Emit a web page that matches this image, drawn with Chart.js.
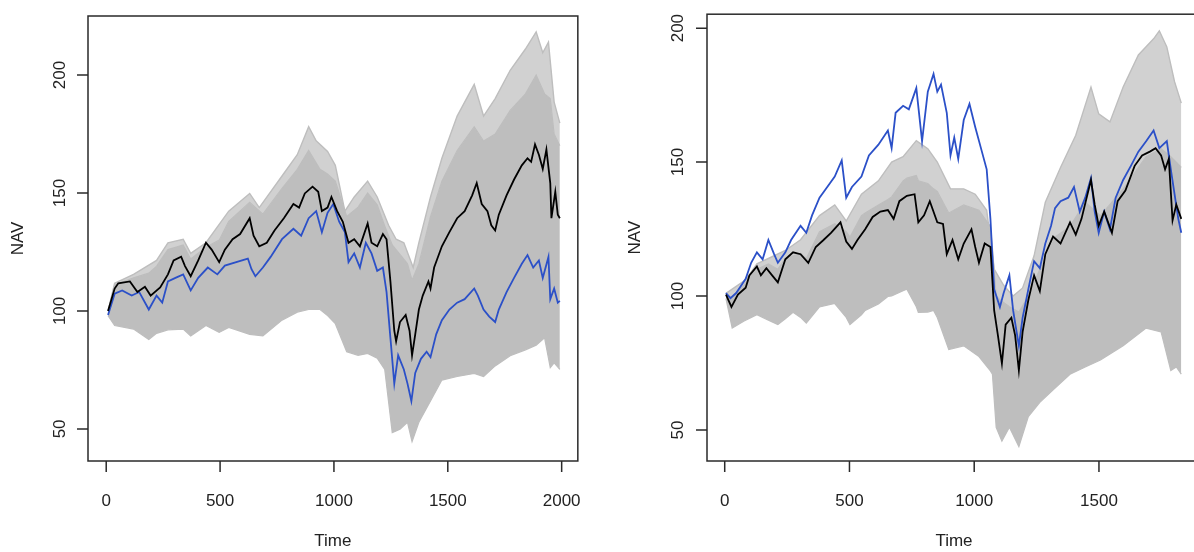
<!DOCTYPE html>
<html>
<head>
<meta charset="utf-8">
<script src="https://cdn.jsdelivr.net/npm/chart.js@4"></script>
<style>
  html, body { margin: 0; padding: 0; background: #fff; overflow: hidden; }
  .wrap { position: relative; width: 1194px; height: 552px; overflow: hidden; }
  canvas { position: absolute; top: 0; }
  #left-chart { left: 0; }
  #right-chart { left: 600px; }
</style>
</head>
<body>
<div class="wrap">
  <canvas id="left-chart" width="600" height="552"></canvas>
  <canvas id="right-chart" width="620" height="552"></canvas>
</div>
<script>
// ---- left panel ----
const leftBlackT = [8,37,53,104,137,170,195,237,271,296,329,346,371,404,438,463,496,521,555,588,630,647,672,705,739,780,822,847,872,906,931,947,972,989,1014,1039,1064,1089,1114,1148,1165,1190,1215,1231,1248,1265,1273,1290,1315,1332,1343,1357,1373,1390,1415,1424,1440,1474,1507,1541,1574,1607,1627,1649,1674,1691,1708,1724,1758,1791,1825,1850,1866,1883,1900,1917,1933,1950,1955,1972,1983,1992];
const leftBlackV = [100,109.5,111.7,112.5,108,110.2,106.5,110,115.5,121.4,123,119,114.7,121.4,128.9,126,120.7,126,130.4,132.6,139.3,131.9,127.4,128.9,134.1,139.3,145.3,143.8,149.8,152.7,150.5,142.3,143.8,148.3,142.3,137.8,128.9,130.4,127.4,137.1,128.9,127.4,132.6,130.4,112.5,91.6,87.1,95.3,98.3,91.6,81.2,90.1,100.6,106.5,112.5,109.5,118.4,127.4,133.4,139.3,142.3,149,154.2,145.3,142.3,136.3,134.1,140.8,149,155.7,161.7,164.7,163.2,170.6,166.2,160.2,168.4,154.2,139.3,150.5,140.8,139.3];

const leftBlueT = [8,37,70,112,145,187,221,246,271,304,338,371,404,446,488,521,571,622,638,655,688,722,772,822,856,889,922,947,972,997,1023,1048,1064,1089,1114,1140,1165,1190,1215,1231,1248,1265,1282,1307,1323,1340,1357,1382,1407,1424,1449,1474,1507,1541,1574,1616,1632,1657,1682,1708,1724,1758,1791,1825,1850,1875,1900,1917,1942,1950,1967,1983,1992];
const leftBlueV = [98.3,107.3,108.7,106.5,108,100.6,106.5,103.5,112.5,114,115.5,108.7,114,118.4,115.5,119.2,120.7,122.2,117.7,114.7,118.4,122.9,130.4,134.8,131.9,139.3,142.3,133.4,141.6,145.3,137.8,133.4,120.7,124.4,118.4,128.9,124.4,117,118.4,108,88.6,69.2,81.2,75.2,69.2,61.8,73.7,79.7,82.7,80.4,90.1,96.1,100.6,103.5,105,109.5,106.5,100.6,97.6,95.3,100.6,108,114,120,123.7,118.4,121.4,114,122.9,105,109.5,103.5,104.3];

const leftBandT = [8,37,120,187,221,271,338,371,438,496,538,630,688,772,839,889,939,972,1006,1056,1106,1148,1190,1223,1256,1290,1323,1343,1373,1424,1474,1541,1616,1657,1708,1774,1841,1888,1925,1950,1967,1992];
const leftBandLow = [98,93.8,92.3,87.9,90.5,92,92.3,89.4,93.8,90.9,93,90.1,89.4,96.1,99.5,100.6,100.6,98,94.6,82.7,81.2,82,80,75.2,48.4,49.9,52.8,44.6,52.8,61.8,70.7,72.2,73.5,72.2,76.7,81,83.5,85.5,88.6,76,78,75.2];
const leftBandHigh = [100,111,114,116,119,126,128,122,127,130,138,146,141,152,160,168,160,158,155,140,144,150,145,136,128,124,120,113,120,140,155,168,178,172,175,185,192,200,192,190,175,170];

const leftTopT = [8,37,120,221,271,338,371,438,538,630,672,772,839,889,922,972,1006,1048,1089,1148,1190,1240,1273,1307,1348,1373,1424,1474,1541,1616,1657,1708,1774,1841,1888,1917,1942,1967,1992];
const leftTopV = [100,111.7,115.5,121.4,128.9,130.4,124.4,128.9,142.3,149.8,143.8,157.2,166.2,178.1,172.1,167.6,161.7,142.3,148.3,155,148.3,136.3,130.4,128.9,118.4,128.9,148.3,164.7,182.6,196,182.6,190,202,211,218.3,209.4,213.9,188.5,179.6];

const leftXTicks = [0, 500, 1000, 1500, 2000];
const leftYTicks = [50, 100, 150, 200];

// ---- right panel ----
const rightBlackT = [5,27,53,84,99,129,145,167,190,213,243,274,304,335,365,396,426,464,487,510,532,563,593,624,654,677,700,730,761,776,799,822,852,875,890,913,936,958,989,1004,1019,1042,1065,1080,1095,1111,1126,1149,1164,1179,1194,1217,1240,1263,1285,1316,1346,1384,1407,1430,1468,1483,1499,1521,1552,1575,1606,1643,1673,1704,1727,1749,1765,1780,1795,1810,1830];
const rightBlackV = [100.5,95.9,100.5,103.1,107.7,111,107.7,110.4,107.7,105.1,113.7,116.3,115.6,112.4,118.3,120.9,123.6,127.5,120.3,117.6,120.9,124.9,129.5,131.5,132.1,128.8,135.4,137.4,138,127.5,130.1,135.4,127.5,126.9,115.6,120.9,113.7,119.6,124.9,118.3,112.4,119.6,118.3,94.6,85.3,74.8,89.3,91.9,85.3,72.2,86.6,98.5,107.7,101.8,115.6,122.2,119.6,127.5,122.9,128.8,143.3,134.1,126.2,131.5,123.6,135.4,139.4,148.6,152.5,153.9,155.2,152.5,147.3,151.2,128.2,134.1,128.8];

const rightBlueT = [5,23,46,84,106,129,152,175,198,213,243,266,304,327,350,380,411,441,469,487,510,548,578,616,654,669,685,715,738,768,791,814,837,852,867,890,905,920,936,958,981,1004,1027,1050,1065,1080,1103,1118,1141,1156,1179,1194,1217,1240,1263,1285,1308,1324,1346,1377,1400,1423,1445,1468,1483,1499,1521,1544,1567,1597,1628,1658,1689,1719,1742,1772,1788,1803,1818,1830];
const rightBlueV = [101.1,99.2,101.1,106.4,112.4,116.3,113.7,120.9,115.6,112.4,116.3,120.9,126.2,123.6,130.1,136.7,140.7,144.6,150.6,136.7,140.7,144.6,152.5,156.5,161.8,155.2,168.4,171,169.7,177.6,157.8,176.3,182.9,176.3,178.9,168.4,152.5,159.1,151.2,165.7,171.7,163.1,155.2,147.3,128.8,102.5,95.9,101.1,107.7,94.6,81.4,91.9,102.5,113,110.4,119.6,126.2,132.8,135.4,136.7,140.7,131.5,136.7,144,131.5,123.6,131.5,124.9,136.7,143.3,148.6,153.9,157.8,161.8,155.2,157.8,147.3,138,128.8,123.6];

const rightBandT = [5,30,76,129,175,213,243,274,304,327,380,441,487,502,548,563,616,654,669,715,730,768,776,814,837,852,898,958,1019,1065,1073,1088,1111,1141,1179,1217,1263,1324,1384,1445,1506,1597,1689,1749,1788,1810,1830];
const rightBandLow = [99,88,90.6,93,91,89.3,91.5,93.9,92,89.9,95.9,97.2,92,89.3,93,94.6,97,99.8,100,102,102.5,96,93.9,94,94.6,92,80,81.4,77.4,72,70.8,51,45.8,51,43.8,55,60.3,65.6,70.8,73.5,76.1,81.4,88,86.6,72.2,73.5,70.8];
const rightBandHigh = [101,99,104,110,112,110,114,115,116,114,124,127,124,122,130,131,134,136,137,143,144,145,143,142,140,139,131,134,132,126,118,100,98,96,94,100,110,122,126,135,130,140,152,155,152,150,148];

const rightTopT = [5,84,129,175,243,304,380,441,487,548,616,669,715,768,814,852,905,958,1004,1050,1080,1118,1156,1194,1240,1285,1346,1407,1468,1499,1544,1597,1658,1719,1742,1772,1803,1830];
const rightTopV = [101,106,112,114,117,121,130,134,128,138,143,150,152,158,155,150,140,140,138,132,110,104,100,103,115,135,148,160,178,168,165,178,190,196,199,193,180,172];

const rightXTicks = [0, 500, 1000, 1500];
const rightYTicks = [50, 100, 150, 200];

const GREY = "#bebebe",
  LIGHT = "rgba(190,190,190,0.7)",
  BLUE = "#2b50c8",
  INK = "#222",
  FRAME = "#2a2a2a",
  FONT = { family: "'Liberation Sans', Arial, sans-serif", size: 17 };

const pts = (ts, vs) => ts.map((t, i) => ({ x: t, y: vs[i] }));
const fixTicks = (values) => (s) => { s.ticks = values.map((v) => ({ value: v })); };

// box around the plot region and outward tick marks, like R's plot()
const framePlugin = {
  id: "frame",
  afterDraw(chart) {
    const { ctx, chartArea: a, scales } = chart;
    ctx.save();
    ctx.strokeStyle = FRAME;
    ctx.lineWidth = 1.5;
    ctx.strokeRect(a.left, a.top, a.right - a.left, a.bottom - a.top);
    ctx.beginPath();
    scales.x.ticks.forEach((t) => {
      const px = scales.x.getPixelForValue(t.value);
      ctx.moveTo(px, a.bottom);
      ctx.lineTo(px, a.bottom + 11);
    });
    scales.y.ticks.forEach((t) => {
      const py = scales.y.getPixelForValue(t.value);
      ctx.moveTo(a.left, py);
      ctx.lineTo(a.left - 11, py);
    });
    ctx.stroke();
    ctx.restore();
  },
};

function makeConfig(p) {
  return {
    type: "line",
    data: {
      datasets: [
        { data: pts(p.blackT, p.blackV), borderColor: "#000", borderWidth: 1.8, order: 0 },
        { data: pts(p.blueT, p.blueV), borderColor: BLUE, borderWidth: 1.8, order: 1 },
        { data: pts(p.topT, p.topV), borderColor: GREY, borderWidth: 1.4, backgroundColor: LIGHT, fill: 3, order: 2 },
        { data: pts(p.bandT, p.bandHigh), borderColor: GREY, borderWidth: 1.2, backgroundColor: GREY, fill: 4, order: 3 },
        { data: pts(p.bandT, p.bandLow), borderColor: GREY, borderWidth: 1.2, fill: false, order: 4 },
      ],
    },
    options: {
      responsive: false,
      animation: false,
      devicePixelRatio: 1,
      layout: { padding: { left: 0, right: p.padRight, top: p.padTop, bottom: 0 } },
      elements: { point: { radius: 0 }, line: { tension: 0 } },
      plugins: { legend: { display: false }, tooltip: { enabled: false } },
      scales: {
        x: {
          type: "linear",
          min: p.xMin,
          max: p.xMax,
          afterBuildTicks: fixTicks(p.xTicks),
          afterFit: (s) => { s.height = 91; },
          border: { display: false },
          grid: { drawOnChartArea: false, tickLength: 11, color: "rgba(0,0,0,0)" },
          ticks: { padding: 19, color: INK, font: FONT, maxRotation: 0, autoSkip: false, callback: (v) => String(v) },
          title: { display: true, text: "Time", color: INK, font: FONT, padding: { top: 0, bottom: 0 } },
        },
        y: {
          type: "linear",
          min: p.yMin,
          max: p.yMax,
          afterBuildTicks: fixTicks(p.yTicks),
          afterFit: (s) => { s.width = p.yWidth; },
          border: { display: false },
          grid: { drawOnChartArea: false, tickLength: 11, color: "rgba(0,0,0,0)" },
          ticks: { padding: p.yPad, crossAlign: "center", minRotation: 90, maxRotation: 90, autoSkip: false, color: INK, font: FONT, callback: (v) => String(v) },
          title: { display: true, text: "NAV", color: INK, font: FONT, padding: { top: p.titlePad, bottom: 0 } },
        },
      },
    },
    plugins: [framePlugin],
  };
}

new Chart(document.getElementById("left-chart"), makeConfig({
  blackT: leftBlackT, blackV: leftBlackV,
  blueT: leftBlueT, blueV: leftBlueV,
  topT: leftTopT, topV: leftTopV,
  bandT: leftBandT, bandHigh: leftBandHigh, bandLow: leftBandLow,
  xTicks: leftXTicks, yTicks: leftYTicks,
  xMin: -80, xMax: 2071, yMin: 36.4, yMax: 225,
  yWidth: 88, yPad: 3, titlePad: 8, padRight: 13, padTop: 16,
}));

new Chart(document.getElementById("right-chart"), makeConfig({
  blackT: rightBlackT, blackV: rightBlackV,
  blueT: rightBlueT, blueV: rightBlueV,
  topT: rightTopT, topV: rightTopV,
  bandT: rightBandT, bandHigh: rightBandHigh, bandLow: rightBandLow,
  xTicks: rightXTicks, yTicks: rightYTicks,
  xMin: -71, xMax: 1909, yMin: 38.4, yMax: 205.2,
  yWidth: 107, yPad: 4, titlePad: 25, padRight: 19, padTop: 14,
}));
</script>
</body>
</html>
